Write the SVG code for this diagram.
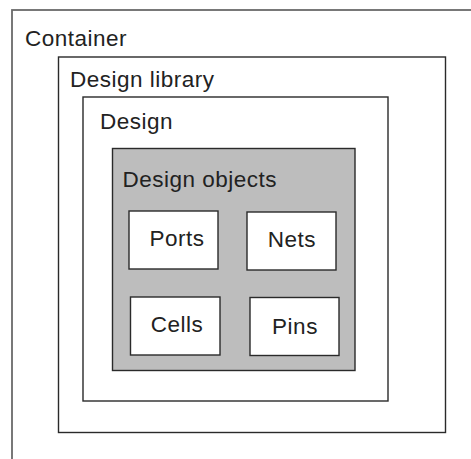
<svg xmlns="http://www.w3.org/2000/svg" width="471" height="459" viewBox="0 0 471 459">
<style>
.box{fill:#fff;stroke:#2a2a2a;stroke-width:1.4}
.gray{fill:#bdbdbd;stroke:#2a2a2a;stroke-width:1.4}
.cont{fill:#fff;stroke:#6a6a6a;stroke-width:1.8}
text{font-family:"Liberation Sans",Arial,sans-serif;font-size:22.5px;letter-spacing:0.5px;fill:#222}
</style>
<rect width="471" height="459" fill="#fff"/>
<g id="container">
<rect class="cont" x="12" y="10" width="480" height="470"/>
<text x="25" y="46">Container</text>
</g>
<g id="design-library">
<rect class="box" x="58.5" y="57" width="387" height="375.5"/>
<text x="70" y="87">Design library</text>
</g>
<g id="design">
<rect class="box" x="83" y="97" width="305" height="304"/>
<text x="100" y="129">Design</text>
</g>
<g id="design-objects">
<rect class="gray" x="112.5" y="148.5" width="242.5" height="222"/>
<text x="122.5" y="187">Design objects</text>
</g>
<g id="ports">
<rect class="box" x="129" y="211" width="89" height="58"/>
<text x="177" y="246" text-anchor="middle">Ports</text>
</g>
<g id="nets">
<rect class="box" x="247" y="212" width="89" height="58"/>
<text x="292" y="247" text-anchor="middle">Nets</text>
</g>
<g id="cells">
<rect class="box" x="130.5" y="297" width="89.5" height="58"/>
<text x="177" y="332" text-anchor="middle">Cells</text>
</g>
<g id="pins">
<rect class="box" x="250" y="297.5" width="89" height="58"/>
<text x="295" y="334" text-anchor="middle">Pins</text>
</g>
<g id="connectors"/>
</svg>
